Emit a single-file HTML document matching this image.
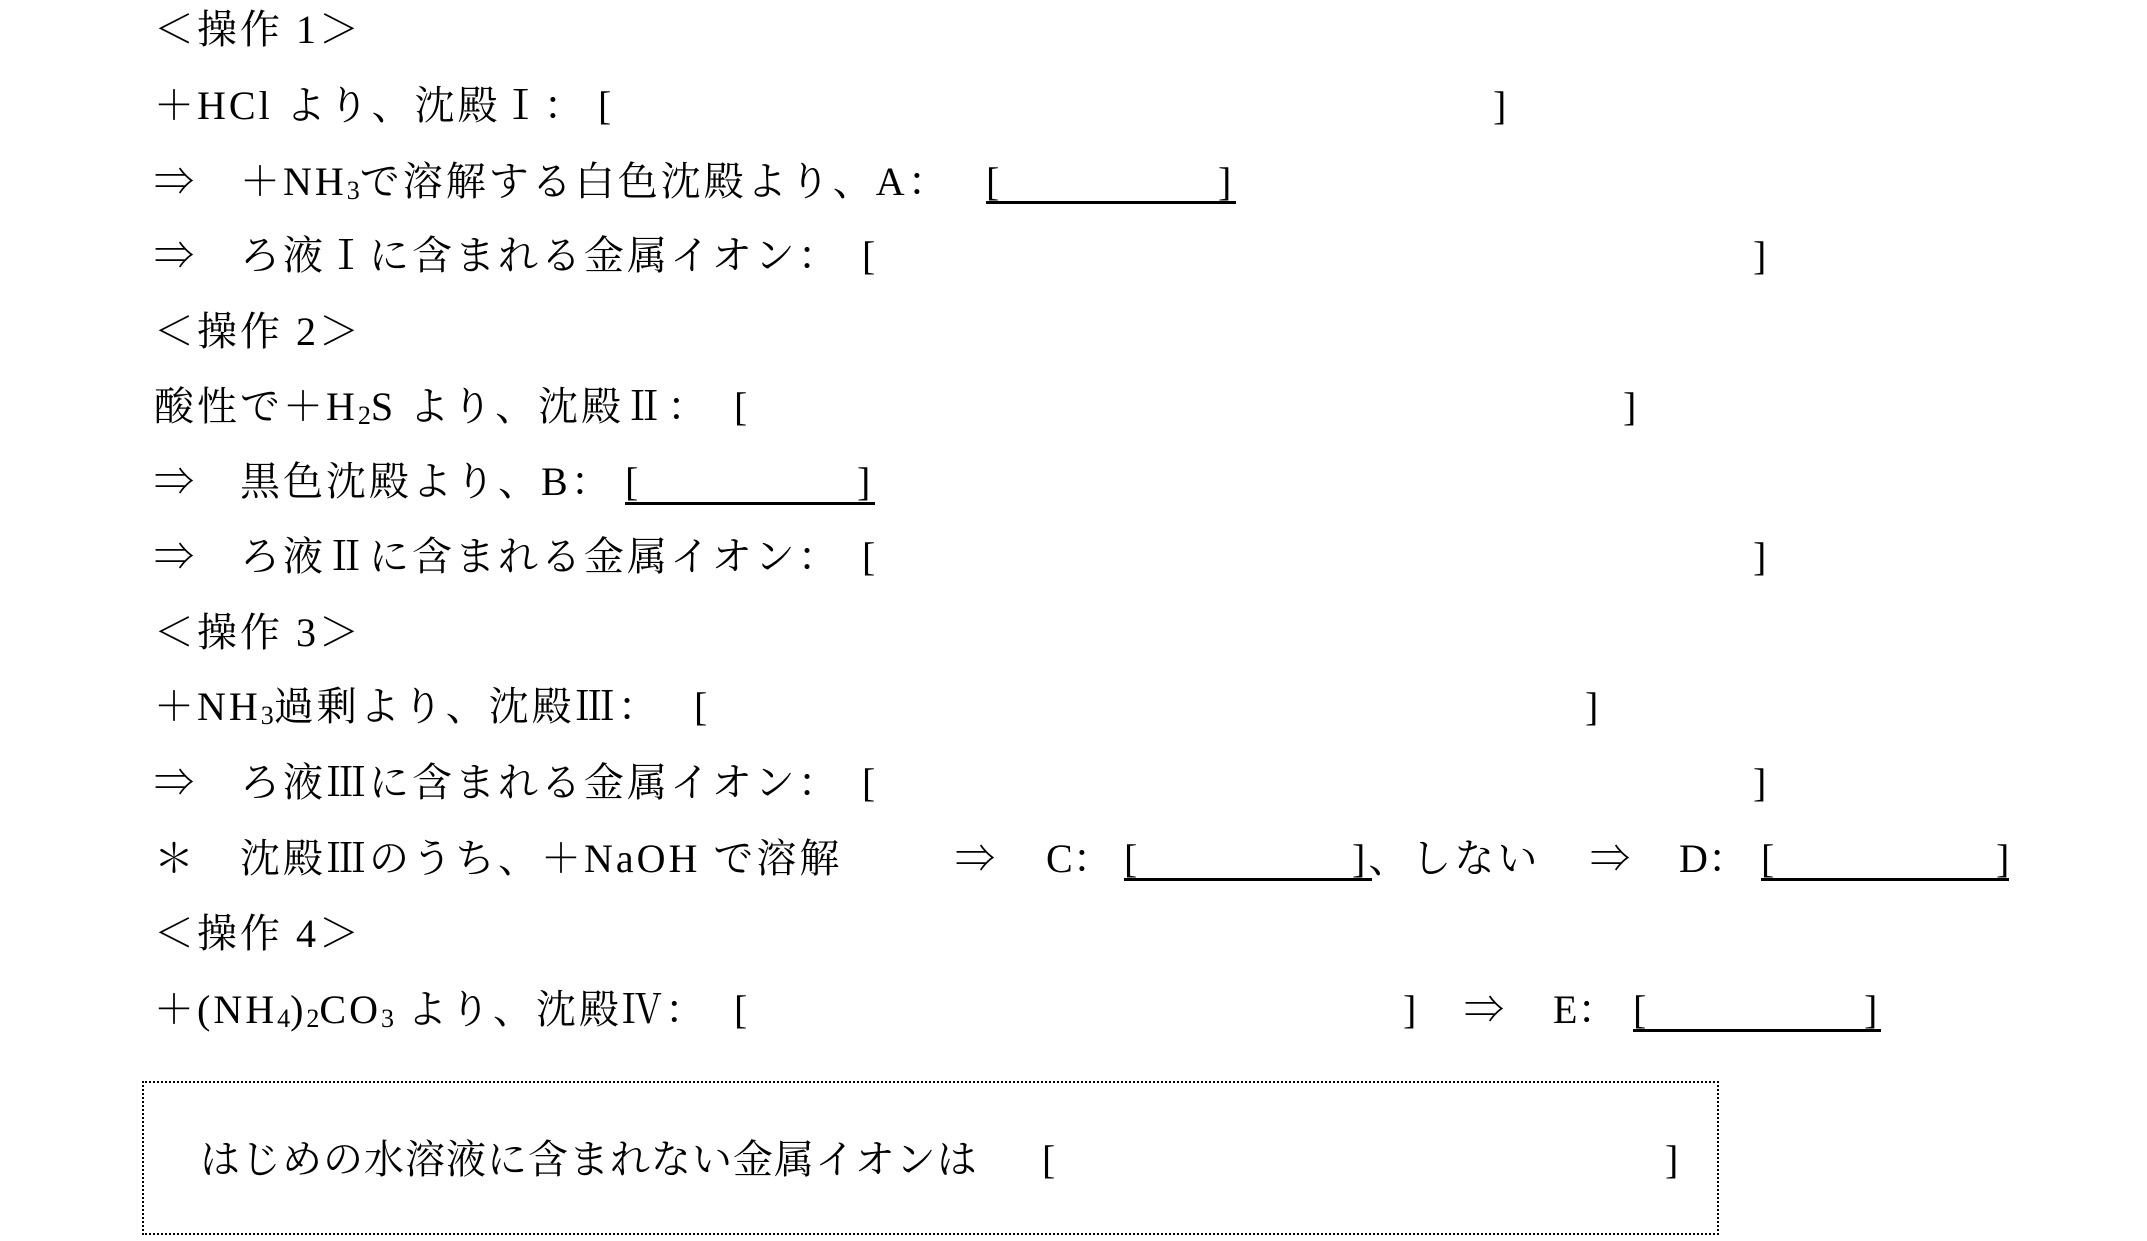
<!DOCTYPE html>
<html><head><meta charset="utf-8"><style>
body{margin:0;width:2147px;height:1241px;background:#fff;position:relative;overflow:hidden;font-family:"Liberation Serif","Noto Serif CJK SC","Noto Serif CJK JP",serif;font-size:40px;color:#000}
.l{position:absolute;height:50px;line-height:50px;white-space:nowrap}
.t{letter-spacing:3px}
.u{position:absolute;height:3px;background:#000}
sub{font-size:26px;vertical-align:-4px;line-height:0;letter-spacing:0}
.box{position:absolute;left:142px;top:1081px;width:1573px;height:150px;border:2px dotted #000}
</style></head><body>
<div class="l t" style="left:154px;top:5px">＜操作 1＞</div>
<div class="l t" style="left:154px;top:81px">＋HCl より、沈殿Ⅰ：</div>
<div class="l" style="left:598px;top:81px">[</div>
<div class="l" style="left:1493px;top:81px">]</div>

<div class="l t" style="left:154px;top:157px">⇒　＋NH<sub>3</sub>で溶解する白色沈殿より、A：</div>
<div class="l" style="left:986px;top:157px">[</div>
<div class="l" style="left:1218px;top:157px">]</div>
<div class="u" style="left:986px;top:201px;width:250px"></div>

<div class="l t" style="left:154px;top:231px">⇒　ろ液Ⅰに含まれる金属イオン：</div>
<div class="l" style="left:862px;top:231px">[</div>
<div class="l" style="left:1753px;top:231px">]</div>

<div class="l t" style="left:154px;top:307px">＜操作 2＞</div>
<div class="l t" style="left:154px;top:382px">酸性で＋H<sub>2</sub>S より、沈殿Ⅱ：</div>
<div class="l" style="left:734px;top:382px">[</div>
<div class="l" style="left:1623px;top:382px">]</div>

<div class="l t" style="left:154px;top:457px">⇒　黒色沈殿より、B：</div>
<div class="l" style="left:625px;top:457px">[</div>
<div class="l" style="left:857px;top:457px">]</div>
<div class="u" style="left:625px;top:502px;width:250px"></div>

<div class="l t" style="left:154px;top:532px">⇒　ろ液Ⅱに含まれる金属イオン：</div>
<div class="l" style="left:862px;top:532px">[</div>
<div class="l" style="left:1753px;top:532px">]</div>

<div class="l t" style="left:154px;top:608px">＜操作 3＞</div>
<div class="l t" style="left:154px;top:682px">＋NH<sub>3</sub>過剰より、沈殿Ⅲ：</div>
<div class="l" style="left:694px;top:682px">[</div>
<div class="l" style="left:1585px;top:682px">]</div>

<div class="l t" style="left:154px;top:758px">⇒　ろ液Ⅲに含まれる金属イオン：</div>
<div class="l" style="left:862px;top:758px">[</div>
<div class="l" style="left:1753px;top:758px">]</div>

<div class="l t" style="left:154px;top:834px">＊　沈殿Ⅲのうち、＋NaOH で溶解</div>
<div class="l" style="left:955px;top:834px">⇒</div>
<div class="l" style="left:1046px;top:834px">C：</div>
<div class="l" style="left:1124px;top:834px">[</div>
<div class="l t" style="left:1352px;top:834px">]、しない</div>
<div class="l" style="left:1590px;top:834px">⇒</div>
<div class="l" style="left:1679px;top:834px">D：</div>
<div class="l" style="left:1761px;top:834px">[</div>
<div class="l" style="left:1996px;top:834px">]</div>
<div class="u" style="left:1124px;top:878px;width:248px"></div>
<div class="u" style="left:1761px;top:878px;width:248px"></div>

<div class="l t" style="left:154px;top:909px">＜操作 4＞</div>
<div class="l t" style="left:154px;top:985px">＋(NH<sub>4</sub>)<sub>2</sub>CO<sub>3</sub> より、沈殿Ⅳ：</div>
<div class="l" style="left:734px;top:985px">[</div>
<div class="l" style="left:1403px;top:985px">]</div>
<div class="l" style="left:1464px;top:985px">⇒</div>
<div class="l" style="left:1553px;top:985px">E：</div>
<div class="l" style="left:1633px;top:985px">[</div>
<div class="l" style="left:1864px;top:985px">]</div>
<div class="u" style="left:1633px;top:1029px;width:248px"></div>

<div class="box"></div>
<div class="l" style="left:200px;top:1135px;letter-spacing:1px">はじめの水溶液に含まれない金属イオンは</div>
<div class="l" style="left:1042px;top:1135px">[</div>
<div class="l" style="left:1665px;top:1135px">]</div>
</body></html>
